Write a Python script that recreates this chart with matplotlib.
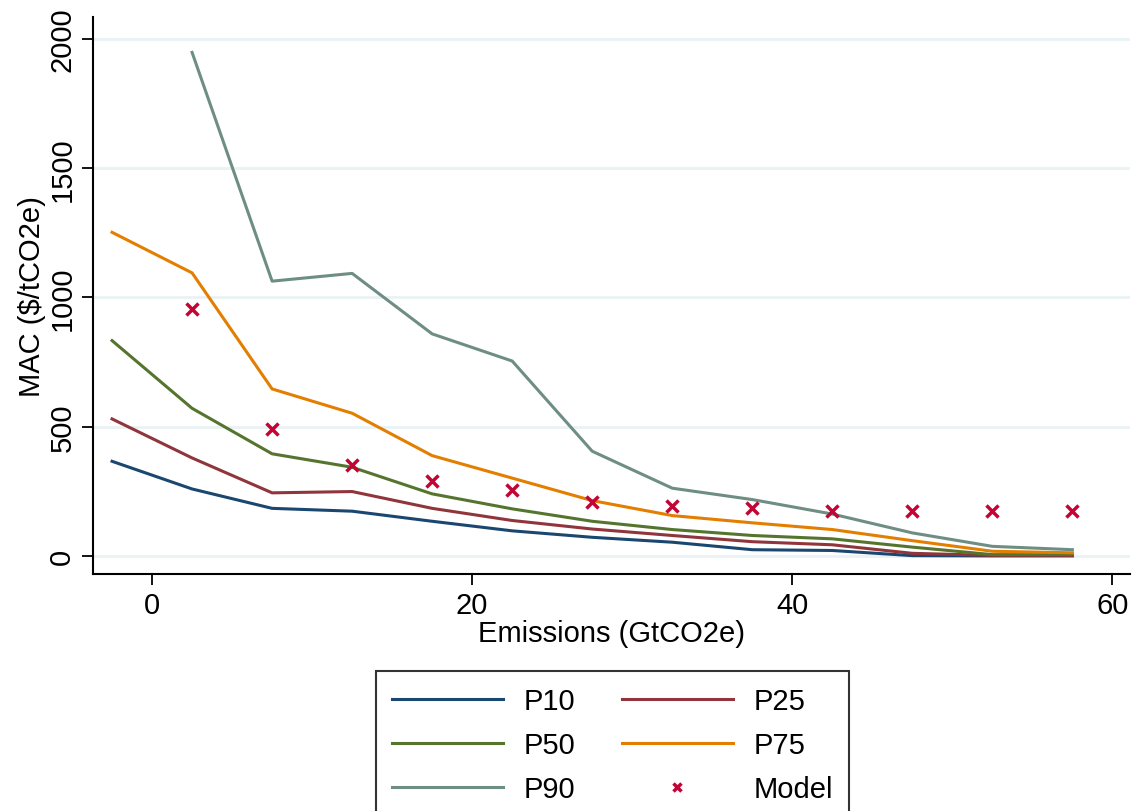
import matplotlib
matplotlib.use("Agg")
import matplotlib.pyplot as plt

emissions = [-2.5, 2.5, 7.5, 12.5, 17.5, 22.5, 27.5, 32.5, 37.5, 42.5, 47.5, 52.5, 57.5]
p10 = [366, 259, 184, 173, 134, 97, 72, 53, 24, 21, 1, 0, 0]
p25 = [530, 379, 244, 249, 184, 137, 104, 79, 55, 43, 10, 2, 2]
p50 = [833, 571, 395, 343, 240, 182, 134, 102, 79, 66, 34, 5, 5]
p75 = [1252, 1095, 646, 552, 388, 301, 214, 156, 128, 102, 59, 18, 12]
emissions_p90 = [2.5, 7.5, 12.5, 17.5, 22.5, 27.5, 32.5, 37.5, 42.5, 47.5, 52.5, 57.5]
p90 = [1948, 1063, 1093, 859, 754, 405, 262, 218, 162, 89, 37, 24]
emissions_model = [2.5, 7.5, 12.5, 17.5, 22.5, 27.5, 32.5, 37.5, 42.5, 47.5, 52.5, 57.5]
model = [955, 491, 353, 289, 256, 208, 195, 186, 175, 175, 175, 172]

plt.rcParams['font.family'] = ['Liberation Sans', 'DejaVu Sans']

W, H = 1137, 812
FS = 21
fig = plt.figure(figsize=(W / 100, H / 100), dpi=100)
ax = fig.add_axes([93 / W, 1 - 575 / H, (1130 - 93) / W, (575 - 18) / H])

lw = 2.2
h10, = ax.plot(emissions, p10, color='#1a476f', lw=lw, label='P10')
h25, = ax.plot(emissions, p25, color='#90353b', lw=lw, label='P25')
h50, = ax.plot(emissions, p50, color='#55752f', lw=lw, label='P50')
h75, = ax.plot(emissions, p75, color='#e37e00', lw=lw, label='P75')
h90, = ax.plot(emissions_p90, p90, color='#6e8e84', lw=lw, label='P90')
hm, = ax.plot(emissions_model, model, ls='none', marker='x', color='#c10534',
              markersize=9, markeredgewidth=2.5, label='Model')

ax.set_xlim(-3.69, 61.1)
ax.set_ylim(-70, 2085)
ax.set_xticks([0, 20, 40, 60])
ax.set_yticks([0, 500, 1000, 1500, 2000])
ax.grid(axis='y', color='#eaf2f3', lw=2)
ax.set_axisbelow(True)
for s in ['top', 'right']:
    ax.spines[s].set_visible(False)
for s in ['left', 'bottom']:
    ax.spines[s].set_linewidth(1.5)
ax.tick_params(axis='both', direction='out', length=8, width=1.3, labelsize=FS, pad=4)
plt.setp(ax.get_yticklabels(), rotation=90, va='center')
ax.set_xlabel('Emissions (GtCO2e)', fontsize=FS, labelpad=0)
ax.set_ylabel('MAC ($/tCO2e)', fontsize=FS, labelpad=2)

handles = [h10, h50, h90, h25, h75, hm]
labels = [h.get_label() for h in handles]
leg = fig.legend(handles, labels, loc='upper center',
                 bbox_to_anchor=((380 + 845) / 2 / W, 1 - 672 / H),
                 ncol=2, fontsize=FS, frameon=True, fancybox=False, edgecolor='black',
                 handlelength=3.8, handletextpad=0.7, columnspacing=1.6,
                 labelspacing=0.55, borderpad=0.55, borderaxespad=0, markerscale=0.7)
leg.get_frame().set_linewidth(1.5)

fig.savefig('out.png', dpi=100)
